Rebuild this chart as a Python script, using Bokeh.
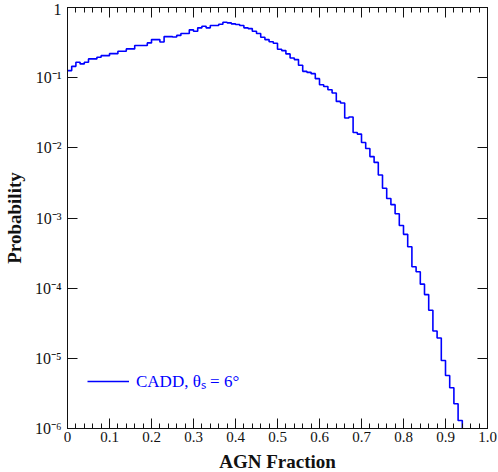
import numpy as np
from bokeh.plotting import figure
from bokeh.models import (LinearAxis, LogAxis, FixedTicker, CustomJSTickFormatter,
                          Legend, LegendItem, Range1d)
from bokeh.embed import file_html
from bokeh.resources import INLINE

# ---------------- data ----------------
bin_width = 0.01
probability = [
    0.126, 0.145, 0.166, 0.157, 0.166, 0.185, 0.185, 0.195, 0.206, 0.206,
    0.220, 0.220, 0.238, 0.238, 0.257, 0.257, 0.287, 0.287, 0.287, 0.313,
    0.349, 0.349, 0.323, 0.385, 0.385, 0.380, 0.400, 0.425, 0.425, 0.480,
    0.459, 0.513, 0.541, 0.513, 0.553, 0.553, 0.578, 0.617, 0.604, 0.585,
    0.572, 0.553, 0.513, 0.500, 0.459, 0.425, 0.377, 0.349, 0.325, 0.310,
    0.254, 0.243, 0.218, 0.191, 0.181, 0.150, 0.123, 0.119, 0.114, 0.0968,
    0.0794, 0.0750, 0.0674, 0.0604, 0.0459, 0.0436, 0.0266, 0.0275, 0.0165, 0.0157,
    0.0119, 0.0098, 0.0075, 0.0062, 0.0041, 0.00265, 0.0019, 0.00155, 0.00115, 0.00078,
    0.000585, 0.00039, 0.000202, 0.000171, 0.000114, 8.1e-5, 4.85e-5, 2.45e-5, 1.95e-5, 9.3e-6,
    5.7e-6, 3.8e-6, 2.25e-6, 1.3e-6,
]
series_label = "CADD, θₛ = 6°"

x_ticks = [0.0, 0.1, 0.2, 0.3, 0.4, 0.5, 0.6, 0.7, 0.8, 0.9, 1.0]
x_tick_labels = ["0", "0.1", "0.2", "0.3", "0.4", "0.5", "0.6", "0.7", "0.8", "0.9", "1.0"]
x_minor_ticks = [round(0.02 * i, 2) for i in range(51)]
y_ticks = [1e-6, 1e-5, 1e-4, 1e-3, 1e-2, 1e-1, 1.0]
y_tick_labels = ["10⁻⁶", "10⁻⁵", "10⁻⁴", "10⁻³", "10⁻²", "10⁻¹", "1"]
x_label = "AGN Fraction"
y_label = "Probability"
Y_MIN, Y_MAX = 1e-6, 1.0
X_MIN, X_MAX = 0.0, 1.0

# ---------------- step outline from the histogram ----------------
edges = np.arange(len(probability) + 1) * bin_width
xs = list(np.repeat(edges, 2)[1:-1]) + [edges[-1]]
ys = list(np.repeat(probability, 2)) + [Y_MIN * 0.5]

FONT = "Liberation Serif"
BLUE = "#0000ff"
AX = "#111111"

p = figure(frame_width=420, frame_height=421, y_axis_type="log",
           x_range=Range1d(X_MIN, X_MAX), y_range=Range1d(Y_MIN, Y_MAX),
           output_backend="svg", toolbar_location=None,
           min_border_left=58, min_border_right=10, min_border_top=7, min_border_bottom=44)
p.background_fill_color = "white"
p.border_fill_color = "white"
p.outline_line_color = AX
p.outline_line_width = 1
p.xgrid.visible = False
p.ygrid.visible = False

r = p.line(xs, ys, line_color=BLUE, line_width=1.6)

fmt_x = CustomJSTickFormatter(args=dict(tvals=x_ticks, tlabels=x_tick_labels), code="""
const i = tvals.findIndex(t => Math.abs(t - tick) < 1e-9);
return i >= 0 ? tlabels[i] : '';
""")
fmt_y = CustomJSTickFormatter(args=dict(tvals=y_ticks, tlabels=y_tick_labels), code="""
const i = tvals.findIndex(t => Math.abs(Math.log10(t) - Math.log10(tick)) < 1e-6);
return i >= 0 ? tlabels[i] : '';
""")
fmt_blank = CustomJSTickFormatter(code="return '';")

def style(ax):
    ax.axis_line_color = AX
    ax.major_tick_line_color = AX
    ax.minor_tick_line_color = AX
    ax.major_tick_in = 10
    ax.major_tick_out = 0
    ax.minor_tick_in = 5
    ax.minor_tick_out = 0
    ax.major_label_text_font = FONT
    ax.major_label_text_color = "#111111"
    ax.major_label_text_font_size = "15px"
    ax.axis_label_text_font = FONT
    ax.axis_label_text_font_style = "bold"
    ax.axis_label_text_font_size = "19px"
    ax.axis_label_text_color = "#111111"

xax = p.xaxis[0]
xax.ticker = FixedTicker(ticks=x_ticks, minor_ticks=x_minor_ticks)
xax.formatter = fmt_x
xax.axis_label = x_label
xax.major_label_standoff = 3
xax.axis_label_standoff = 6
style(xax)

yax = p.yaxis[0]
yax.ticker = FixedTicker(ticks=y_ticks, minor_ticks=[])
yax.formatter = fmt_y
yax.axis_label = y_label
yax.major_label_standoff = 6
yax.axis_label_standoff = 7
style(yax)
yax.major_label_text_font_size = "16px"

top = LinearAxis(ticker=FixedTicker(ticks=x_ticks, minor_ticks=x_minor_ticks),
                 formatter=fmt_blank, major_label_standoff=0)
style(top)
p.add_layout(top, "above")

right = LogAxis(ticker=FixedTicker(ticks=y_ticks, minor_ticks=[]),
                formatter=fmt_blank, major_label_standoff=0)
style(right)
p.add_layout(right, "right")

legend = Legend(items=[LegendItem(label=series_label, renderers=[r])],
                location=(20, 36), orientation="vertical")
legend.label_text_font = FONT
legend.label_text_font_size = "17px"
legend.label_text_color = BLUE
legend.glyph_width = 42
legend.label_standoff = 7
legend.padding = 0
legend.margin = 0
legend.border_line_alpha = 0
legend.background_fill_alpha = 0
p.add_layout(legend, "center")

open("out.html", "w").write(file_html(p, INLINE))
